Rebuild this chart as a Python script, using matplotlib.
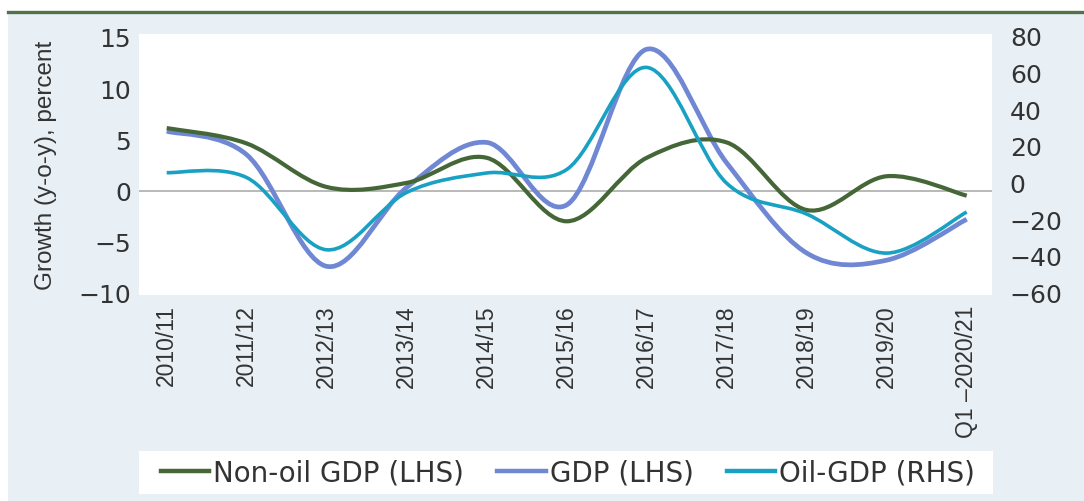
import matplotlib
matplotlib.use("Agg")
import matplotlib.pyplot as plt
import matplotlib.patches as mpatches
from matplotlib.lines import Line2D
from matplotlib.path import Path
import numpy as np

# ── data ──────────────────────────────────────────────────────────────────────
periods = ["2010/11", "2011/12", "2012/13", "2013/14", "2014/15", "2015/16",
           "2016/17", "2017/18", "2018/19", "2019/20", "Q1 \u20132020/21"]
non_oil_gdp = [6.1, 4.6, 0.35, 0.75, 3.2, -3.0, 3.2, 4.7, -1.9, 1.4, -0.5]
gdp         = [5.8, 3.5, -7.4, 0.3, 4.7, -1.4, 13.8, 2.7, -6.1, -6.8, -2.8]
oil_gdp     = [5.3, 2.6, -36.8, -5.5, 5.1, 7.0, 62.7, -0.5, -17.3, -38.6, -16.2]

left_ticks  = [-10, -5, 0, 5, 10, 15]
right_ticks = [-60, -40, -20, 0, 20, 40, 60, 80]

GREEN = "#456637"
BLUE  = "#7088d4"
TEAL  = "#19a1c4"
BG    = "#e8f0f6"
RULE  = "#50734a"

ROT_FONT = ["Liberation Sans", "DejaVu Sans"]

plt.rcParams.update({
    "font.family": "DejaVu Sans",
    "text.color": "#333333",
    "axes.labelcolor": "#333333",
    "xtick.color": "#333333",
    "ytick.color": "#333333",
})


def smooth_path(xs, ys):
    """Excel-style smoothed line: cubic Bezier through every point."""
    pts = np.column_stack([xs, ys]).astype(float)
    ext = np.vstack([pts[0], pts, pts[-1]])
    verts = [pts[0]]
    codes = [Path.MOVETO]
    for i in range(len(pts) - 1):
        p0, p1, p2, p3 = ext[i], ext[i + 1], ext[i + 2], ext[i + 3]
        verts += [p1 + (p2 - p0) / 6, p2 - (p3 - p1) / 6, p2]
        codes += [Path.CURVE4] * 3
    return Path(verts, codes)


W, H = 1084, 502
fig = plt.figure(figsize=(W / 100, H / 100), dpi=100, facecolor="white")

# panel background and top rule
fig.patches.append(mpatches.Rectangle((8 / W, 0), 1 - 8 / W, 1 - 14.5 / H,
                                      transform=fig.transFigure,
                                      facecolor=BG, edgecolor="none", zorder=-10))
fig.lines.append(Line2D([8 / W, 1], [1 - 13.3 / H] * 2, transform=fig.transFigure,
                        color=RULE, lw=2.4))
# legend box
fig.patches.append(mpatches.Rectangle((139.3 / W, 1 - 495 / H), (993 - 139.3) / W,
                                      43 / H, transform=fig.transFigure,
                                      facecolor="white", edgecolor="none", zorder=-5))

ax = fig.add_axes([139.3 / W, 1 - 295.7 / H, (991.7 - 139.3) / W, (295.7 - 34.7) / H])
ax2 = ax.twinx()

x = np.arange(len(periods))

ax.axhline(0, color="#a6a6a6", lw=1.1, zorder=1)
ax.add_patch(mpatches.PathPatch(smooth_path(x, gdp), fill=False,
                                edgecolor=BLUE, lw=3.4, zorder=2))
ax.add_patch(mpatches.PathPatch(smooth_path(x, non_oil_gdp), fill=False,
                                edgecolor=GREEN, lw=3.0, zorder=3))
ax2.add_patch(mpatches.PathPatch(smooth_path(x, oil_gdp), fill=False,
                                 edgecolor=TEAL, lw=2.6, zorder=3))

ax.set_xlim(-0.3425, 10.3125)
ax.set_ylim(-10.17, 15.32)
ax2.set_ylim(-61.3, 81.1)

ax.set_yticks(left_ticks)
ax2.set_yticks(right_ticks)
ax.set_xticks(x)
ax.set_xticklabels(periods, rotation=90, family=ROT_FONT, fontsize=16.5)
ax.tick_params(axis="x", length=0, pad=7)
ax.tick_params(axis="y", length=0, pad=6, labelsize=18)
ax2.tick_params(axis="y", length=0, pad=13, labelsize=18)

ax.set_ylabel("Growth (y-o-y), percent", family=ROT_FONT, fontsize=17.5, labelpad=15)

for a in (ax, ax2):
    for s in a.spines.values():
        s.set_visible(False)
ax.set_facecolor("white")

handles = [Line2D([0], [0], color=GREEN, lw=3.2, label="Non-oil GDP (LHS)"),
           Line2D([0], [0], color=BLUE, lw=3.2, label="GDP (LHS)"),
           Line2D([0], [0], color=TEAL, lw=3.2, label="Oil-GDP (RHS)")]
fig.legend(handles=handles, loc="center", ncol=3, frameon=False,
           bbox_to_anchor=(568 / W, 1 - 473.5 / H), fontsize=20,
           handlelength=1.73, handletextpad=0.15, columnspacing=1.2)

fig.savefig("out.png", dpi=100, facecolor="white")
